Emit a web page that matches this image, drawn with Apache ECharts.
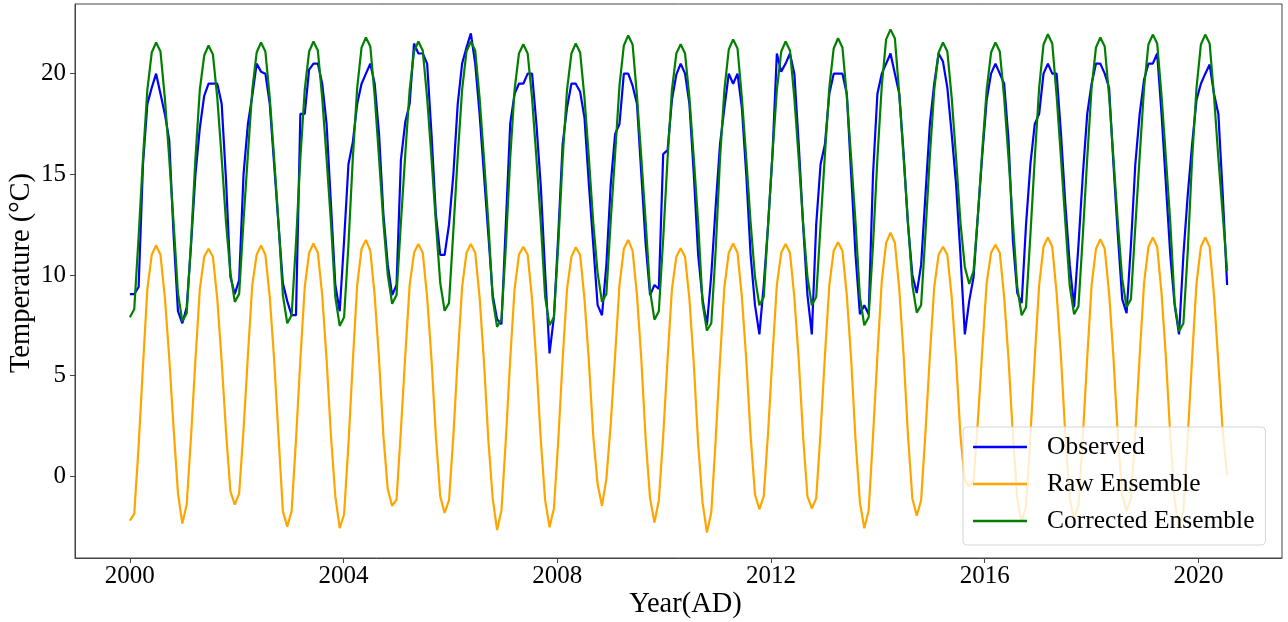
<!DOCTYPE html>
<html>
<head>
<meta charset="utf-8">
<script src="https://cdn.jsdelivr.net/npm/echarts@6.0.0/dist/echarts.min.js"></script>
<style>
html,body{margin:0;padding:0;background:#fff;}
#chart{width:1288px;height:622px;}
</style>
</head>
<body>
<div id="chart"></div>
<script>
// ---- data (monthly, Jan 2000 .. Dec 2020) ----
const startYear = 2000;
const monthStep = 0.08182;          // spacing of the monthly samples on the year axis
const xTicks = [2000, 2004, 2008, 2012, 2016, 2020];
const yTicks = [0, 5, 10, 15, 20];
const seriesNames = ['Observed', 'Raw Ensemble', 'Corrected Ensemble'];

const observed = [
  9.05, 9.05, 9.4, 15.5, 18.5, 19.3, 20.0, 19.0, 18.0, 16.7, 12.0, 8.2,
  7.6, 8.4, 11.5, 15.0, 17.3, 18.9, 19.5, 19.5, 19.5, 18.5, 14.7, 9.9,
  9.05, 9.75, 15.0, 17.5, 18.9, 20.5, 20.1, 20.0, 18.5, 15.5, 12.5, 9.6,
  8.7, 8.0, 8.0, 18.0, 18.0, 20.2, 20.5, 20.5, 19.5, 17.5, 13.5, 9.5,
  8.2, 11.7, 15.5, 16.6, 18.5, 19.5, 20.0, 20.5, 19.5, 17.0, 13.0, 10.5,
  9.0, 9.5, 15.7, 17.6, 18.5, 21.5, 21.0, 21.0, 20.5, 17.0, 13.0, 11.0,
  11.0, 12.5, 15.0, 18.5, 20.5, 21.3, 22.0, 20.5, 18.0, 15.0, 12.0, 9.0,
  7.8, 7.55, 12.5, 17.5, 19.0, 19.5, 19.5, 20.0, 20.0, 17.5, 14.4, 10.1,
  6.1, 7.9, 12.0, 16.5, 18.3, 19.5, 19.5, 19.1, 17.8, 14.5, 11.5, 8.5,
  8.0, 10.5, 14.5, 17.0, 17.5, 20.0, 20.0, 19.4, 18.5, 15.0, 11.5, 9.0,
  9.5, 9.3, 16.0, 16.2, 18.7, 19.95, 20.5, 20.0, 18.5, 15.0, 11.0, 8.8,
  7.5, 10.0, 13.4, 16.5, 18.3, 20.0, 19.5, 20.0, 18.3, 15.0, 11.0, 8.5,
  7.05, 9.5, 12.5, 16.0, 21.0, 20.1, 20.5, 21.0, 20.0, 16.5, 12.5, 9.0,
  7.05, 12.5, 15.5, 16.5, 19.0, 20.0, 20.0, 20.0, 19.0, 15.0, 11.0, 8.05,
  8.5, 8.05, 15.0, 19.0, 20.0, 20.5, 21.0, 20.0, 19.0, 16.0, 12.5, 10.0,
  9.1, 10.5, 14.0, 17.5, 19.5, 21.0, 20.6, 19.3, 17.0, 14.5, 11.0, 7.05,
  8.7, 9.9, 13.0, 16.0, 18.7, 20.0, 20.5, 20.0, 19.5, 16.7, 11.7, 9.1,
  8.6, 12.5, 15.5, 17.5, 18.0, 20.0, 20.5, 20.0, 20.0, 17.0, 13.5, 10.5,
  8.4, 11.5, 15.0, 18.0, 19.5, 20.5, 20.5, 20.0, 19.3, 15.5, 12.0, 8.8,
  8.1, 11.5, 15.5, 18.0, 19.7, 20.5, 20.5, 21.0, 18.0, 14.5, 11.0, 8.5,
  7.05, 11.0, 14.0, 16.5, 18.7, 19.5, 20.0, 20.45, 19.0, 18.0, 14.0, 9.5
];

const rawEnsemble = [
  -2.2, -1.87, 1.5, 5.5, 9.3, 11.0, 11.46, 11.0, 8.9, 5.9, 2.4, -0.84,
  -2.35, -1.4, 2.0, 5.8, 9.3, 10.9, 11.3, 10.9, 8.8, 5.7, 2.2, -0.75,
  -1.41, -0.85, 2.3, 6.0, 9.5, 11.0, 11.46, 11.0, 8.9, 5.8, 2.0, -1.73,
  -2.5, -1.73, 1.8, 5.8, 9.4, 11.1, 11.56, 11.1, 9.0, 5.8, 2.0, -1.0,
  -2.58, -1.9, 1.6, 5.7, 9.5, 11.3, 11.74, 11.2, 9.0, 5.8, 2.0, -0.66,
  -1.47, -1.16, 2.3, 6.0, 9.5, 11.1, 11.54, 11.1, 8.9, 5.8, 2.0, -1.0,
  -1.82, -1.2, 2.0, 5.9, 9.4, 11.1, 11.54, 11.1, 8.9, 5.7, 1.8, -1.1,
  -2.67, -1.7, 1.8, 5.8, 9.3, 11.0, 11.4, 11.0, 8.8, 5.6, 1.8, -1.2,
  -2.53, -1.6, 1.8, 5.8, 9.3, 10.9, 11.38, 11.0, 8.8, 5.7, 2.0, -0.4,
  -1.47, -0.13, 2.6, 6.0, 9.5, 11.3, 11.74, 11.2, 9.0, 5.8, 1.8, -1.1,
  -2.3, -1.2, 2.0, 5.8, 9.3, 10.9, 11.33, 10.9, 8.8, 5.6, 1.6, -1.3,
  -2.8, -1.8, 1.8, 5.8, 9.4, 11.1, 11.56, 11.1, 8.9, 5.8, 2.0, -0.9,
  -1.64, -1.0, 2.2, 6.0, 9.5, 11.1, 11.54, 11.1, 8.9, 5.8, 2.0, -1.0,
  -1.6, -1.1, 2.2, 6.0, 9.5, 11.2, 11.63, 11.2, 9.0, 5.8, 1.8, -1.3,
  -2.58, -1.7, 2.0, 6.0, 9.7, 11.6, 12.1, 11.6, 9.3, 6.0, 2.0, -1.1,
  -1.96, -1.2, 2.2, 6.0, 9.4, 11.0, 11.4, 11.0, 8.9, 5.8, 2.0, -0.2,
  -0.5, -0.2, 2.8, 6.3, 9.6, 11.1, 11.5, 11.1, 8.9, 5.8, 2.0, -1.1,
  -2.27, -1.5, 2.0, 5.9, 9.5, 11.4, 11.86, 11.4, 9.1, 5.9, 2.0, -1.1,
  -2.18, -1.4, 2.0, 5.9, 9.5, 11.3, 11.77, 11.3, 9.1, 5.9, 2.0, -0.9,
  -1.73, -1.1, 2.2, 6.0, 9.6, 11.4, 11.86, 11.4, 9.1, 5.9, 2.0, -1.2,
  -2.6, -1.7, 2.0, 5.9, 9.6, 11.4, 11.86, 11.4, 9.0, 5.6, 2.2, 0.05
];

const correctedEnsemble = [
  7.9, 8.3, 11.9, 15.8, 19.2, 21.05, 21.55, 21.1, 18.8, 15.8, 12.6, 9.1,
  7.7, 8.1, 11.7, 15.8, 19.2, 20.9, 21.4, 20.95, 18.8, 15.8, 12.6, 10.1,
  8.66, 9.06, 12.7, 16.0, 19.2, 21.05, 21.55, 21.1, 18.8, 15.8, 12.6, 9.0,
  7.6, 8.0, 11.6, 15.8, 19.2, 21.1, 21.6, 21.15, 18.8, 15.8, 12.6, 8.9,
  7.47, 7.9, 11.5, 15.8, 19.3, 21.3, 21.8, 21.35, 18.9, 15.8, 12.6, 10.0,
  8.57, 9.0, 12.6, 16.0, 19.2, 21.1, 21.6, 21.15, 18.8, 15.8, 12.6, 9.6,
  8.22, 8.6, 12.2, 15.9, 19.2, 21.1, 21.6, 21.15, 18.8, 15.8, 12.6, 8.8,
  7.42, 7.8, 11.4, 15.8, 19.2, 21.0, 21.46, 21.0, 18.8, 15.8, 12.6, 8.9,
  7.5, 7.9, 11.5, 15.8, 19.2, 21.0, 21.5, 21.05, 18.8, 15.8, 12.6, 10.1,
  8.66, 9.06, 12.7, 16.0, 19.4, 21.4, 21.9, 21.45, 18.9, 15.8, 12.6, 9.2,
  7.78, 8.2, 11.8, 15.8, 19.2, 21.0, 21.46, 21.0, 18.8, 15.8, 12.6, 8.6,
  7.24, 7.6, 11.2, 15.8, 19.2, 21.2, 21.7, 21.25, 18.8, 15.8, 12.6, 9.9,
  8.49, 8.9, 12.5, 16.0, 19.2, 21.1, 21.6, 21.15, 18.8, 15.8, 12.6, 9.9,
  8.49, 8.9, 12.5, 16.0, 19.3, 21.25, 21.76, 21.3, 18.9, 15.8, 12.6, 8.9,
  7.5, 7.9, 11.5, 15.8, 19.4, 21.7, 22.2, 21.75, 19.0, 15.8, 12.6, 9.5,
  8.13, 8.5, 12.1, 15.9, 19.2, 21.05, 21.55, 21.1, 18.8, 15.8, 12.6, 10.4,
  9.55, 10.2, 13.0, 16.2, 19.2, 21.05, 21.55, 21.1, 18.8, 15.8, 12.6, 9.4,
  8.0, 8.4, 12.0, 15.8, 19.3, 21.45, 21.96, 21.5, 18.9, 15.8, 12.6, 9.45,
  8.05, 8.45, 12.0, 15.8, 19.3, 21.3, 21.8, 21.35, 18.9, 15.8, 12.6, 9.8,
  8.4, 8.8, 12.4, 15.9, 19.3, 21.45, 21.94, 21.5, 18.9, 15.8, 12.6, 8.6,
  7.2, 7.6, 11.2, 15.8, 19.3, 21.45, 21.94, 21.5, 18.9, 15.8, 13.0, 10.2
];

// ---- chart ----
const FONT = '"Liberation Serif", "DejaVu Serif", serif';
const toPairs = arr => arr.map((v, i) => [startYear + i * monthStep, v]);
const colors = ['#0000ff', '#ffa500', '#008000'];
const seriesData = [observed, rawEnsemble, correctedEnsemble];

const chart = echarts.init(document.getElementById('chart'), null, {renderer: 'canvas'});
chart.setOption({
  animation: false,
  backgroundColor: '#ffffff',
  grid: {
    left: 75, right: 6, top: 4, bottom: 64,
    containLabel: false,
    outerBoundsMode: 'none',
    show: true, borderColor: '#444', borderWidth: 1, backgroundColor: 'transparent'
  },
  xAxis: {
    type: 'value',
    min: 1998.973, max: 2021.564,
    axisLine: {show: true, onZero: false, lineStyle: {color: '#444', width: 1}},
    axisTick: {show: true, inside: false, length: 5, customValues: xTicks, lineStyle: {color: '#444'}},
    axisLabel: {customValues: xTicks, formatter: v => String(v), fontFamily: FONT, fontSize: 25, color: '#000', margin: 6},
    splitLine: {show: false},
    name: 'Year(AD)', nameLocation: 'middle', nameGap: 32, nameMoveOverlap: false,
    nameTextStyle: {fontFamily: FONT, fontSize: 28.5, color: '#000', padding: [0, 0, 0, 14]}
  },
  yAxis: {
    type: 'value',
    min: -4.06, max: 23.46,
    axisLine: {show: true, onZero: false, lineStyle: {color: '#444', width: 1}},
    axisTick: {show: true, inside: false, length: 5, customValues: yTicks, lineStyle: {color: '#444'}},
    axisLabel: {customValues: yTicks, formatter: v => String(v), fontFamily: FONT, fontSize: 25, color: '#000', margin: 9},
    splitLine: {show: false},
    name: 'Temperature (°C)', nameLocation: 'middle', nameGap: 39, nameRotate: 90, nameMoveOverlap: false,
    nameTextStyle: {fontFamily: FONT, fontSize: 28.5, color: '#000', padding: [0, 0, 0, 16]}
  },
  legend: {
    orient: 'vertical',
    left: 963, top: 427,
    icon: 'rect',
    itemWidth: 54, itemHeight: 2.4, itemGap: 7,
    padding: [5, 11, 9, 10],
    backgroundColor: 'rgba(255,255,255,0.8)',
    borderColor: '#d6d6d6', borderWidth: 1, borderRadius: 4,
    data: seriesNames,
    textStyle: {fontFamily: FONT, fontSize: 25.5, color: '#000', lineHeight: 30, padding: [0, 0, 0, 15]}
  },
  series: seriesNames.map((name, k) => ({
    name: name,
    type: 'line',
    data: toPairs(seriesData[k]),
    symbol: 'none',
    showSymbol: false,
    lineStyle: {color: colors[k], width: 2.2},
    itemStyle: {color: colors[k]},
    emphasis: {disabled: true}
  }))
});
</script>
</body>
</html>
